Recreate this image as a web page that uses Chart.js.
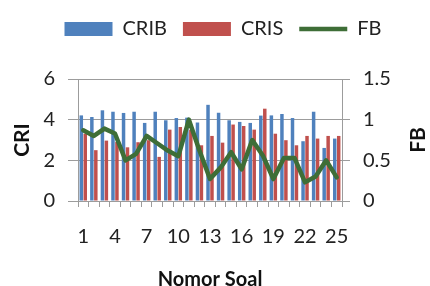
<!DOCTYPE html>
<html>
<head>
<meta charset="utf-8">
<script src="https://cdn.jsdelivr.net/npm/chart.js@4"></script>
<style>
html,body{margin:0;padding:0;background:#fff;}
#wrap{width:430px;height:286px;position:relative;}
</style>
</head>
<body>
<div id="wrap"><canvas id="c" width="430" height="286"></canvas></div>
<script>
const categories = ['1','2','3','4','5','6','7','8','9','10','11','12','13','14','15','16','17','18','19','20','21','22','23','24','25'];
const crib = [4.21, 4.13, 4.46, 4.39, 4.33, 4.39, 3.84, 4.39, 3.97, 4.08, 4.10, 3.86, 4.73, 4.34, 3.97, 3.89, 3.84, 4.20, 4.21, 4.28, 4.08, 2.94, 4.39, 2.61, 3.07];
const cris = [3.31, 2.50, 2.97, 2.90, 2.64, 2.89, 2.99, 2.17, 3.51, 3.64, 3.50, 2.74, 3.20, 2.87, 3.76, 3.69, 3.51, 4.54, 3.31, 2.99, 2.74, 3.20, 3.07, 3.20, 3.20];
const fb = [0.87, 0.80, 0.89, 0.83, 0.50, 0.58, 0.80, 0.71, 0.62, 0.55, 1.00, 0.62, 0.27, 0.41, 0.60, 0.39, 0.75, 0.56, 0.27, 0.53, 0.53, 0.23, 0.30, 0.50, 0.29];
const criTicks = [0, 2, 4, 6];
const fbTicks = [0, 0.5, 1, 1.5];
const fbTitle = 'FB';

const FONT = 'Lato, "Open Sans", sans-serif';
const GRID = '#9c9c9c';
const GREEN = '#3e6e37';

const legendTweak = {
  id: 'legendTweak',
  beforeLayout(chart) {
    const lg = chart.legend;
    if (!lg || lg._tweaked) return;
    lg._tweaked = true;
    const fit = lg.fit;
    lg.fit = function () { fit.call(this); this.height = 79; };
    const draw = lg.draw;
    lg.draw = function () {
      const ctx = this.ctx;
      ctx.save(); ctx.translate(8, 3); draw.call(this); ctx.restore();
    };
  }
};

// right axis title, reading bottom-to-top like the primary axis title
const rightTitle = {
  id: 'rightTitle',
  afterDraw(chart) {
    const s = chart.scales.y1;
    const ctx = chart.ctx;
    ctx.save();
    ctx.translate(s.right - 12, (chart.chartArea.top + chart.chartArea.bottom) / 2);
    ctx.rotate(-Math.PI / 2);
    ctx.font = 'bold 21px ' + FONT;
    ctx.fillStyle = '#111';
    ctx.textAlign = 'center';
    ctx.textBaseline = 'middle';
    ctx.fillText(fbTitle, 0, 0);
    ctx.restore();
  }
};

new Chart(document.getElementById('c'), {
  type: 'bar',
  data: {
    labels: categories,
    datasets: [
      { label: 'CRIB', data: crib, backgroundColor: '#4f81bd', yAxisID: 'y', order: 2,
        categoryPercentage: 0.75, barPercentage: 0.88 },
      { label: 'CRIS', data: cris, backgroundColor: '#c0504d', yAxisID: 'y', order: 2,
        categoryPercentage: 0.75, barPercentage: 0.88 },
      { label: 'FB', type: 'line', data: fb, borderColor: GREEN, backgroundColor: GREEN,
        borderWidth: 4.5, pointRadius: 0, tension: 0, yAxisID: 'y1', order: 0,
        borderJoinStyle: 'round', borderCapStyle: 'round' }
    ]
  },
  plugins: [legendTweak, rightTitle],
  options: {
    responsive: false,
    animation: false,
    devicePixelRatio: 1,
    layout: { padding: { left: 0, right: 0, top: 0, bottom: 0 } },
    plugins: {
      tooltip: { enabled: false },
      legend: {
        position: 'top',
        labels: {
          font: { family: FONT, size: 20 },
          color: '#222',
          usePointStyle: true,
          pointStyleWidth: 48,
          boxHeight: 14,
          boxWidth: 48,
          padding: 16,
          sort: (a, b) => a.datasetIndex - b.datasetIndex,
          generateLabels(chart) {
            const items = Chart.defaults.plugins.legend.labels.generateLabels(chart);
            items.forEach((it) => {
              if (it.datasetIndex === 2) { it.pointStyle = 'line'; it.lineWidth = 4.5; it.strokeStyle = GREEN; it.fillStyle = GREEN; }
              else { it.pointStyle = 'rect'; it.lineWidth = 0; }
            });
            return items;
          }
        }
      }
    },
    scales: {
      x: {
        offset: true,
        grid: { offset: true, drawOnChartArea: false, color: GRID, tickLength: 6 },
        border: { display: true, color: GRID },
        ticks: {
          autoSkip: false, maxRotation: 0, minRotation: 0,
          color: '#222', font: { family: FONT, size: 20 }, padding: 18,
          callback: function (v, i) { return i % 3 === 0 ? categories[i] : ''; }
        },
        title: { display: true, text: 'Nomor Soal', color: '#111',
          font: { family: FONT, size: 20, weight: 'bold', lineHeight: 0.6 }, padding: { top: 0, bottom: 0 } },
        afterFit(s) { s.height = 85; }
      },
      y: {
        position: 'left', min: 0, max: 6,
        afterBuildTicks(s) { s.ticks = criTicks.map(v => ({ value: v })); },
        grid: { color: GRID, tickLength: 10 },
        border: { display: true, color: GRID },
        ticks: { color: '#222', font: { family: FONT, size: 20 }, padding: 13,
          callback: v => String(v) },
        title: { display: true, text: 'CRI', color: '#111',
          font: { family: FONT, size: 21, weight: 'bold' }, padding: { top: 10, bottom: 0 } },
        afterFit(s) { s.width = 78; }
      },
      y1: {
        position: 'right', min: 0, max: 1.5,
        afterBuildTicks(s) { s.ticks = fbTicks.map(v => ({ value: v })); },
        grid: { drawOnChartArea: false, color: GRID, tickLength: 8 },
        border: { display: true, color: GRID },
        ticks: { color: '#222', font: { family: FONT, size: 20 }, padding: 13,
          callback: v => String(v) },
        title: { display: false },
        afterFit(s) { s.width = 88; }
      }
    }
  }
});
</script>
</body>
</html>
